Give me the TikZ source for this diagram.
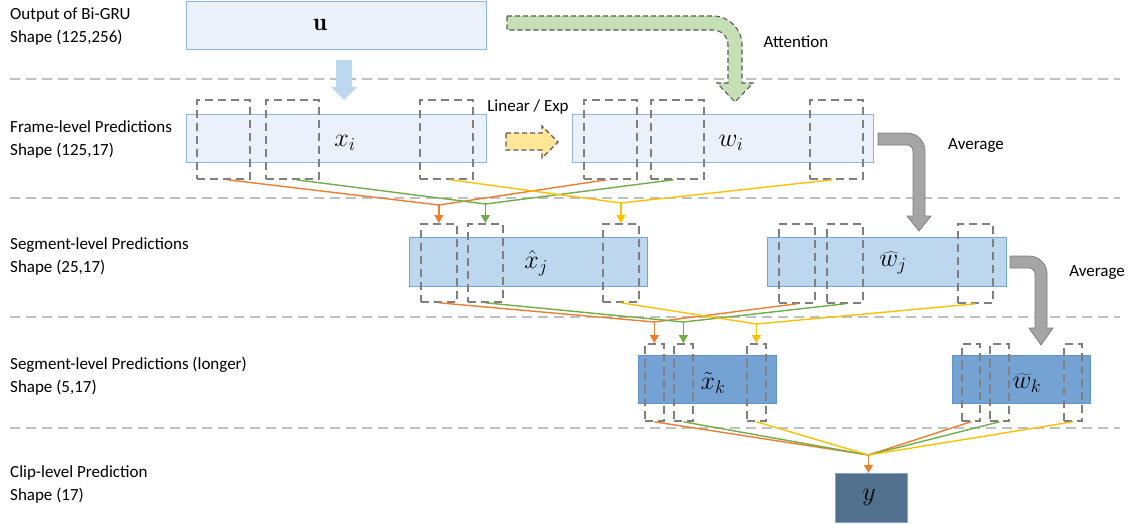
\RequirePackage{fix-cm}
\documentclass[tikz,border=0pt]{standalone}
\usepackage{fontspec}
\newfontfamily\labelfont{Carlito}
\usetikzlibrary{arrows.meta,calc}
\definecolor{lfill}{HTML}{EAF1FA}
\definecolor{lborder}{HTML}{8DB4E2}
\definecolor{mfill}{HTML}{BDD7EE}
\definecolor{mborder}{HTML}{74A5D8}
\definecolor{dfill}{HTML}{74A3D3}
\definecolor{dborder}{HTML}{5E93CB}
\definecolor{yfill}{HTML}{51718F}
\definecolor{yborder}{HTML}{7EA6D6}
\definecolor{wgray}{HTML}{7F7F7F}
\definecolor{sepgray}{HTML}{C0C0C0}
\definecolor{orng}{HTML}{ED7D31}
\definecolor{grn}{HTML}{70AD47}
\definecolor{ylw}{HTML}{FFC000}
\definecolor{gfill}{HTML}{C5E0B4}
\definecolor{yafill}{HTML}{FFE699}
\definecolor{arrgray}{HTML}{A5A5A5}
\definecolor{arrborder}{HTML}{7F7F7F}
\definecolor{darkline}{HTML}{595959}
\newcommand{\winbox}[5]{\node[win, minimum width=#4pt, minimum height=#5pt] (#1) at (#2,#3) {};}
\begin{document}
\begin{tikzpicture}[x=1pt,y=-1pt,
  lab/.style={font=\labelfont\fontsize{17}{23}\selectfont, align=left, anchor=west, inner sep=0pt},
  txt/.style={font=\labelfont\fontsize{17}{20}\selectfont, inner sep=0pt},
  mth/.style={font=\fontsize{26}{30}\selectfont, inner sep=0pt},
  boxbase/.style={anchor=north west, inner sep=0pt, line width=1pt},
  lbox/.style={boxbase, fill=lfill, draw=lborder},
  mbox/.style={boxbase, fill=mfill, draw=mborder},
  dbox/.style={boxbase, fill=dfill, draw=dborder},
  ybox/.style={boxbase, fill=yfill, draw=yborder},
  win/.style={anchor=north west, inner sep=0pt, draw=wgray, line width=1.8pt, dash pattern=on 8pt off 5pt},
  sep/.style={draw=sepgray, line width=1.8pt, dash pattern=on 10pt off 6pt},
  conn/.style={line width=1.4pt},
  tip/.style={-{Triangle[width=9pt,length=8pt]}}
]
\useasboundingbox (0,0) rectangle (1131,524);
% separators
\coordinate (s1a) at (10,79); \coordinate (s1b) at (1120,79);
\coordinate (s2a) at (10,198); \coordinate (s2b) at (1120,198);
\coordinate (s3a) at (10,317); \coordinate (s3b) at (1120,317);
\coordinate (s4a) at (10,428); \coordinate (s4b) at (1120,428);
\draw[sep] (s1a) -- (s1b);
\draw[sep] (s2a) -- (s2b);
\draw[sep] (s3a) -- (s3b);
\draw[sep] (s4a) -- (s4b);
% left labels
\node[lab] (l1) at (10,27) {Output of Bi-GRU\\Shape (125,256)};
\node[lab] (l2) at (10,139) {Frame-level Predictions\\Shape (125,17)};
\node[lab] (l3) at (10,256) {Segment-level Predictions\\Shape (25,17)};
\node[lab] (l4) at (10,376) {Segment-level Predictions (longer)\\Shape (5,17)};
\node[lab] (l5) at (10,484) {Clip-level Prediction\\Shape (17)};
% boxes
\node[lbox, minimum width=300pt, minimum height=48pt] (u) at (186,1) {};
\node[lbox, minimum width=300pt, minimum height=48pt] (xi) at (186,114) {};
\node[lbox, minimum width=301pt, minimum height=48pt] (wi) at (572,114) {};
\node[mbox, minimum width=238pt, minimum height=49pt] (xh) at (409,237) {};
\node[mbox, minimum width=239pt, minimum height=49pt] (wh) at (767,237) {};
\node[dbox, minimum width=138pt, minimum height=48pt] (xt) at (638,355) {};
\node[dbox, minimum width=138pt, minimum height=48pt] (wt) at (952,355) {};
\node[ybox, minimum width=72pt, minimum height=49pt] (yb) at (835,473) {};
% texts in boxes
\node[mth, font=\fontsize{25}{30}\selectfont] (ut) at (320,25) {$\mathbf{u}$};
\node[mth] (xit) at (345,143) {$x_i$};
\node[mth] (wit) at (731,143) {$w_i$};
\node[mth] (xht) at (536,263) {$\hat{x}_j$};
\node[mth] (wht) at (893,263) {$\widehat{w}_j$};
\node[mth] (xtt) at (713,383) {$\tilde{x}_k$};
\node[mth] (wtt) at (1027,383) {$\widetilde{w}_k$};
\node[mth] (yt) at (869,497) {$y$};
% windows
\winbox{xiw1}{196}{99}{53}{79}
\winbox{xiw2}{265}{99}{53}{79}
\winbox{xiw3}{419}{99}{53}{79}
\winbox{wiw1}{583}{99}{53}{79}
\winbox{wiw2}{650}{99}{53}{79}
\winbox{wiw3}{809}{99}{53}{79}
\winbox{xhw1}{420}{223}{36}{78}
\winbox{xhw2}{467}{223}{35}{78}
\winbox{xhw3}{602}{223}{36}{78}
\winbox{whw1}{778}{223}{36}{79}
\winbox{whw2}{826}{223}{36}{79}
\winbox{whw3}{957}{223}{35}{79}
\winbox{xtw1}{644}{343}{19}{77}
\winbox{xtw2}{673}{343}{19}{77}
\winbox{xtw3}{746}{343}{19}{77}
\winbox{wtw1}{961}{343}{18}{77}
\winbox{wtw2}{989}{343}{19}{77}
\winbox{wtw3}{1063}{343}{18}{77}
% other labels
\node[txt] (att) at (796,42) {Attention};
\node[txt] (lin) at (528,107) {Linear / Exp};
\node[txt] (av1) at (976,146) {Average};
\node[txt] (av2) at (1097,273) {Average};
% block arrows
\fill[mfill] (336,60) -- (352,60) -- (352,87) -- (357,87) -- (344,100) -- (331,87) -- (336,87) -- cycle;
\draw[fill=yafill, draw=darkline, line width=1.1pt, dash pattern=on 5pt off 3pt]
  (506,133) -- (542,133) -- (542,126) -- (558,142) -- (542,158) -- (542,150) -- (506,150) -- cycle;
\draw[fill=gfill, draw=darkline, line width=1.1pt, dash pattern=on 5pt off 3pt]
  (507,16) -- (713,16) .. controls (729,16) and (742,29) .. (742,45) -- (742,83) -- (753,83)
  -- (735,102) -- (717,83) -- (728,83) -- (728,45) .. controls (728,36.7) and (721.3,30) .. (713,30)
  -- (507,30) -- cycle;
\draw[fill=arrgray, draw=arrborder, line width=0.8pt]
  (878,133) -- (907,133) .. controls (916.9,133) and (925,141.1) .. (925,151) -- (925,216) -- (931,216)
  -- (919,231) -- (907,216) -- (913,216) -- (913,151) .. controls (913,147.7) and (910.3,145) .. (907,145)
  -- (878,145) -- cycle;
\draw[fill=arrgray, draw=arrborder, line width=0.8pt]
  (1010,256) -- (1029,256) .. controls (1038.9,256) and (1047,264.1) .. (1047,274) -- (1047,328) -- (1053,328)
  -- (1041,345) -- (1029,328) -- (1035,328) -- (1035,274) .. controls (1035,270.7) and (1032.3,268) .. (1029,268)
  -- (1010,268) -- cycle;
% junctions
\coordinate (j1o) at ($(xhw1.north)+(0,-18)$);
\coordinate (j1g) at ($(xhw2.north)+(0,-19)$);
\coordinate (j1y) at ($(xhw3.north)+(0,-20)$);
\coordinate (j2o) at ($(xtw1.north)+(0,-21)$);
\coordinate (j2g) at ($(xtw2.north)+(0,-21)$);
\coordinate (j2y) at ($(xtw3.north)+(0,-19)$);
\coordinate (j3) at ($(yb.north)+(-3,-18)$);
% level 1 connectors
\draw[conn, orng] ($(xiw1.south)+(4,0)$) -- (j1o) -- ($(wiw1.south)+(-4,0)$);
\draw[conn, grn] ($(xiw2.south)+(4,0)$) -- (j1g) -- ($(wiw2.south)+(-4,0)$);
\draw[conn, ylw] ($(xiw3.south)+(4,0)$) -- (j1y) -- ($(wiw3.south)+(-4,0)$);
\draw[conn, orng, tip] (j1o) -- (xhw1.north);
\draw[conn, grn, tip] (j1g) -- (xhw2.north);
\draw[conn, ylw, tip] (j1y) -- (xhw3.north);
% level 2 connectors
\draw[conn, orng] (xhw1.south) -- (j2o) -- (whw1.south);
\draw[conn, grn] (xhw2.south) -- (j2g) -- (whw2.south);
\draw[conn, ylw] (xhw3.south) -- (j2y) -- (whw3.south);
\draw[conn, orng, tip] (j2o) -- (xtw1.north);
\draw[conn, grn, tip] (j2g) -- (xtw2.north);
\draw[conn, ylw, tip] (j2y) -- (xtw3.north);
% level 3 connectors
\draw[conn, orng] (xtw1.south) -- (j3) -- (wtw1.south);
\draw[conn, grn] (xtw2.south) -- (j3) -- (wtw2.south);
\draw[conn, ylw] (xtw3.south) -- (j3) -- (wtw3.south);
\draw[conn, orng, tip] (j3) -- (j3 |- yb.north);
\end{tikzpicture}
\end{document}
